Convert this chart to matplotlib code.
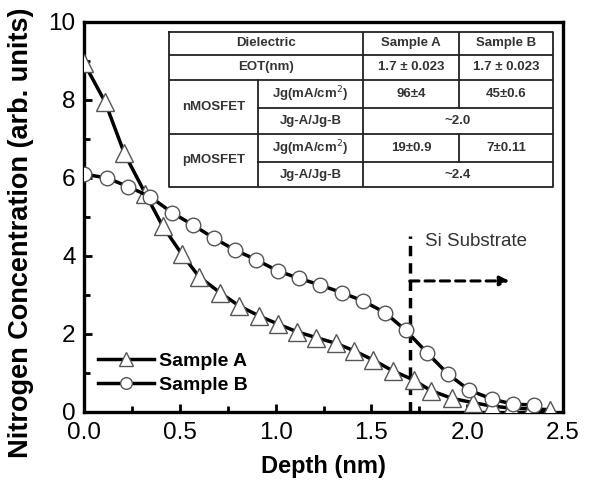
import numpy as np
import matplotlib
matplotlib.use("Agg")
import matplotlib.pyplot as plt

plt.rcParams['font.family'] = ['Liberation Sans', 'DejaVu Sans']

# depth profile (nm, arb. units)
depth_a = [0.0, 0.11, 0.21, 0.32, 0.41, 0.51, 0.60, 0.71, 0.81, 0.915, 1.01, 1.11, 1.21,
           1.315, 1.41, 1.51, 1.61, 1.72, 1.81, 1.92, 2.03, 2.13, 2.23, 2.33, 2.43]
conc_a = [8.95, 7.95, 6.64, 5.6, 4.77, 4.05, 3.47, 3.06, 2.72, 2.46, 2.26, 2.06, 1.91,
          1.76, 1.57, 1.33, 1.06, 0.82, 0.55, 0.35, 0.24, 0.15, 0.1, 0.08, 0.06]
depth_b = [0.0, 0.12, 0.23, 0.345, 0.46, 0.57, 0.68, 0.79, 0.90, 1.01, 1.12, 1.23, 1.345,
           1.455, 1.57, 1.68, 1.79, 1.90, 2.01, 2.13, 2.24, 2.35]
conc_b = [6.1, 6.0, 5.78, 5.52, 5.11, 4.79, 4.45, 4.15, 3.9, 3.62, 3.43, 3.26, 3.06,
          2.85, 2.55, 2.09, 1.52, 0.97, 0.56, 0.33, 0.2, 0.18]

interface = 1.7

table_rows = [
    ['Dielectric', '', 'Sample A', 'Sample B'],
    ['EOT(nm)', '', '1.7 ± 0.023', '1.7 ± 0.023'],
    ['nMOSFET', 'Jg(mA/cm$^2$)', '96±4', '45±0.6'],
    ['', 'Jg-A/Jg-B', '~2.0', ''],
    ['pMOSFET', 'Jg(mA/cm$^2$)', '19±0.9', '7±0.11'],
    ['', 'Jg-A/Jg-B', '~2.4', ''],
]

fig = plt.figure(figsize=(5.89, 4.94), dpi=100)
ax = fig.add_axes([0.1426, 0.166, 0.8134, 0.7895])

ax.plot(depth_a, conc_a, '-', color='black', lw=2.5, marker='^', ms=13,
        mfc='white', mec='#555555', mew=1.0, label='Sample A', zorder=3)
ax.plot(depth_b, conc_b, '-', color='black', lw=2.5, marker='o', ms=10.5,
        mfc='white', mec='#555555', mew=1.0, label='Sample B', zorder=3)

# Si substrate marker
ax.plot([interface, interface], [0, 4.5], color='black', lw=2.5, ls=(0, (3, 2)), zorder=2)
ax.annotate('', xy=(2.22, 3.36), xytext=(interface, 3.36),
            arrowprops=dict(arrowstyle='-|>', color='black', lw=2.2, ls=(0, (3, 2)),
                            mutation_scale=14, shrinkA=0, shrinkB=0))
ax.text(1.78, 4.36, 'Si Substrate', fontsize=13.5, color='#333333', va='center')

ax.set_xlim(0, 2.5)
ax.set_ylim(0, 10)
ax.set_xticks(np.arange(0, 2.51, 0.5))
ax.set_xticks(np.arange(0, 2.51, 0.25), minor=True)
ax.set_yticks(np.arange(0, 10.1, 2))
ax.set_yticks(np.arange(0, 10.1, 1), minor=True)
ax.set_xticklabels(['0.0', '0.5', '1.0', '1.5', '2.0', '2.5'])
ax.tick_params(which='both', direction='in', width=2, labelsize=17.5, color='black')
ax.tick_params(which='major', length=6, pad=6)
ax.tick_params(which='minor', length=4)
ax.tick_params(axis='x', which='major', pad=7)
for s in ax.spines.values():
    s.set_linewidth(2.4)

ax.set_xlabel('Depth (nm)', fontsize=17, fontweight='bold', labelpad=8)
ax.set_ylabel('Nitrogen Concentration (arb. units)', fontsize=19.5, fontweight='bold')
ax.yaxis.set_label_coords(-0.105, 0.46)

ax.legend(loc='lower left', bbox_to_anchor=(0.0, 0.012), frameon=False,
          prop={'weight': 'bold', 'size': 14}, handlelength=2.9, handletextpad=0.25,
          labelspacing=0.3, borderaxespad=0.3, markerscale=0.8)

# inset table with merged cells
tax = fig.add_axes([0.287, 0.6215, 0.652, 0.3138])
tax.set_xlim(0, 1)
tax.set_ylim(1, 0)
tax.axis('off')
col_edges = [0, 0.232, 0.505, 0.755, 1.0]
row_edges = [0, 0.148, 0.31, 0.49, 0.658, 0.839, 1.0]
lc = '#222222'
lw = 1.3
tax.plot([0, 1, 1, 0, 0], [0, 0, 1, 1, 0], color=lc, lw=lw, clip_on=False)
for r in range(1, 6):
    x0 = col_edges[1] if r in (3, 5) else 0
    tax.plot([x0, 1], [row_edges[r], row_edges[r]], color=lc, lw=lw)
tax.plot([col_edges[1]] * 2, [row_edges[2], 1], color=lc, lw=lw)
tax.plot([col_edges[2]] * 2, [0, 1], color=lc, lw=lw)
for r in range(6):
    if r in (3, 5):
        continue
    tax.plot([col_edges[3]] * 2, [row_edges[r], row_edges[r + 1]], color=lc, lw=lw)


def cell_text(txt, c0, c1, r0, r1):
    tax.text((col_edges[c0] + col_edges[c1]) / 2, (row_edges[r0] + row_edges[r1]) / 2, txt,
             ha='center', va='center', fontsize=9.5, fontweight='bold', color='#333333')


cell_text(table_rows[0][0], 0, 2, 0, 1)
cell_text(table_rows[1][0], 0, 2, 1, 2)
cell_text(table_rows[2][0], 0, 1, 2, 4)
cell_text(table_rows[4][0], 0, 1, 4, 6)
for r in range(6):
    if table_rows[r][1]:
        cell_text(table_rows[r][1], 1, 2, r, r + 1)
    if r in (3, 5):
        cell_text(table_rows[r][2], 2, 4, r, r + 1)
    else:
        cell_text(table_rows[r][2], 2, 3, r, r + 1)
        cell_text(table_rows[r][3], 3, 4, r, r + 1)

fig.savefig('out.png', dpi=100)
